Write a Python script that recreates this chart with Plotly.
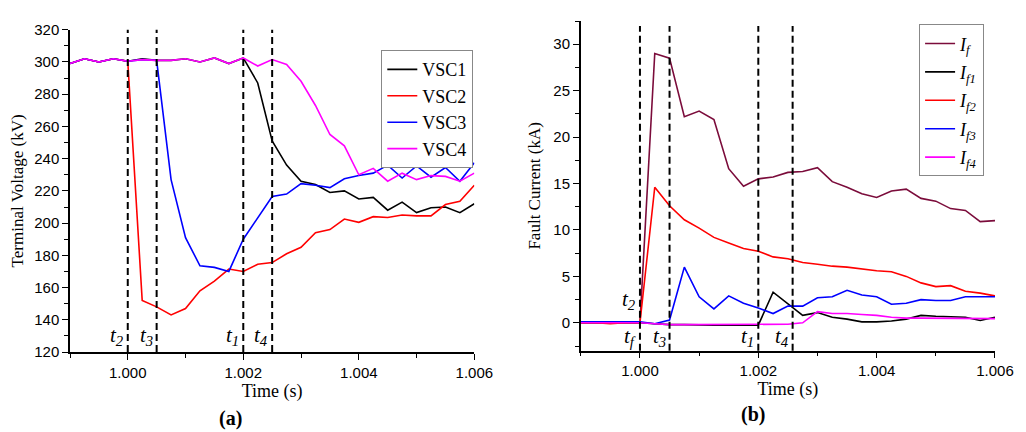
import plotly.graph_objects as go

# ---------------- data ----------------
time = [0.999, 0.99925, 0.9995, 0.99975, 1.0, 1.00025, 1.0005, 1.00075, 1.001,
        1.00125, 1.0015, 1.00175, 1.002, 1.00225, 1.0025, 1.00275, 1.003, 1.00325,
        1.0035, 1.00375, 1.004, 1.00425, 1.0045, 1.00475, 1.005, 1.00525, 1.0055,
        1.00575, 1.006]

vsc1 = [299, 302, 300, 302, 300.5, 302, 301, 301, 302, 300, 302.5, 299, 302.5,
        287, 251, 236, 226, 224, 219, 220, 215, 216, 208, 213, 206.5, 209.5, 210, 206.5, 212]
vsc2 = [299, 302, 300, 302, 300.5, 152, 148, 143, 147, 158, 164, 171.5, 170, 174.5,
        175.5, 181, 185, 194, 196, 202.5, 200.5, 204, 203.5, 205, 204.5, 204.5, 211.5, 213.5, 223.5]
vsc3 = [299, 302, 300, 302, 300.5, 301.5, 301, 227, 191, 173.5, 172.5, 170, 190, 203,
        216.5, 218, 224.5, 223.5, 222, 227.5, 229.5, 231, 236, 228, 235.5, 228.5, 234.5, 226, 237.5]
vsc4 = [299, 302, 300, 302, 300.5, 301.5, 301, 301, 302, 300, 302.5, 299, 302.5,
        297.5, 301.5, 298.5, 288, 273, 255, 248, 230, 234, 226, 231, 227, 229.5, 229, 226, 231]

i_f = [0, 0, 0, 0, 0, 29.0, 28.5, 22.2, 22.8, 21.9, 16.6, 14.7, 15.5, 15.7, 16.2, 16.3,
       16.7, 15.2, 14.6, 13.9, 13.5, 14.2, 14.4, 13.4, 13.1, 12.3, 12.1, 10.9, 11.0]
i_f1 = [0, 0, 0, 0, 0, -0.1, -0.2, -0.2, -0.25, -0.25, -0.25, -0.25, -0.25, 3.3, 2.0, 0.8,
        1.1, 0.6, 0.4, 0.1, 0.1, 0.2, 0.4, 0.8, 0.7, 0.65, 0.6, 0.25, 0.6]
i_f2 = [0, 0, -0.1, 0, 0, 14.6, 12.6, 11.1, 10.2, 9.2, 8.6, 8.0, 7.7, 7.1, 6.9, 6.5, 6.3,
        6.1, 6.0, 5.8, 5.6, 5.5, 5.0, 4.3, 3.9, 4.0, 3.4, 3.2, 2.9]
i_f3 = [0.1, 0.1, 0.1, 0.1, 0.1, -0.1, 0.3, 6.0, 2.8, 1.5, 2.9, 2.1, 1.6, 1.0, 1.8, 1.8,
        2.7, 2.8, 3.5, 3.0, 2.8, 2.0, 2.1, 2.5, 2.4, 2.4, 2.8, 2.8, 2.8]
i_f4 = [0, 0, 0, 0, 0, -0.1, -0.2, -0.2, -0.2, -0.2, -0.2, -0.2, -0.2, -0.2, -0.15, 0.0,
        1.2, 1.0, 1.0, 0.9, 0.8, 0.6, 0.5, 0.5, 0.5, 0.5, 0.5, 0.5, 0.45]

names_a = ["VSC1", "VSC2", "VSC3", "VSC4"]
names_b = ["<i>I<sub>f</sub></i>", "<i>I<sub>f1</sub></i>", "<i>I<sub>f2</sub></i>",
           "<i>I<sub>f3</sub></i>", "<i>I<sub>f4</sub></i>"]

events_a = [1.000, 1.0005, 1.002, 1.0025]
labels_a = ["2", "3", "1", "4"]
label_y_a = [130, 130, 130, 130]

events_b = [1.000, 1.000, 1.0005, 1.002, 1.00258]
labels_b = ["2", "f", "3", "1", "4"]
label_y_b = [2.5, -1.5, -1.5, -1.5, -1.5]

# ---------------- styles ----------------
colors_a = ["#000000", "#ff0000", "#0000ff", "#ff00ff"]
colors_b = ["#7b0c3b", "#000000", "#ff0000", "#0000ff", "#ff00ff"]
SERIF = "Liberation Serif"
SANS = "Liberation Sans"

fig = go.Figure()

for name, ys, c in zip(names_a, [vsc1, vsc2, vsc3, vsc4], colors_a):
    fig.add_trace(go.Scatter(x=time, y=ys, mode="lines", name=name,
                             line=dict(color=c, width=1.6),
                             xaxis="x", yaxis="y", legend="legend"))

for k, (name, ys, c) in enumerate(zip(names_b, [i_f, i_f1, i_f2, i_f3, i_f4], colors_b)):
    fig.add_trace(go.Scatter(x=time, y=ys, mode="lines", name=name,
                             line=dict(color=c, width=1.6), legendgroup="g%d" % k,
                             xaxis="x2", yaxis="y2", legend="legend2"))

shapes = []
annotations = []
for ev in events_a:
    shapes.append(dict(type="line", xref="x", yref="y domain", x0=ev, x1=ev, y0=0, y1=1,
                       line=dict(color="black", width=2, dash="7px,4px")))
for ev, lab, yy in zip(events_a, labels_a, label_y_a):
    annotations.append(dict(x=ev, y=yy, xref="x", yref="y", xanchor="right", yanchor="middle",
                            xshift=-2, showarrow=False,
                            text="<i>t<sub>%s</sub></i>" % lab,
                            font=dict(family=SERIF, size=21, color="black")))
for ev in sorted(set(events_b)):
    shapes.append(dict(type="line", xref="x2", yref="y2 domain", x0=ev, x1=ev, y0=0, y1=0.985,
                       line=dict(color="black", width=2, dash="7px,4px")))
for ev, lab, yy in zip(events_b, labels_b, label_y_b):
    annotations.append(dict(x=ev, y=yy, xref="x2", yref="y2", xanchor="right", yanchor="middle",
                            xshift=-2, showarrow=False,
                            text="<i>t<sub>%s</sub></i>" % lab,
                            font=dict(family=SERIF, size=21, color="black")))

annotations.append(dict(x=0.1738, y=-0.2, xref="paper", yref="paper", showarrow=False,
                        xanchor="center", yanchor="middle",
                        text="<b>(a)</b>", font=dict(family=SERIF, size=20, color="black")))
annotations.append(dict(x=0.7388, y=-0.19, xref="paper", yref="paper", showarrow=False,
                        xanchor="center", yanchor="middle",
                        text="<b>(b)</b>", font=dict(family=SERIF, size=20, color="black")))

axis_common = dict(showline=True, linecolor="black", linewidth=1.5, ticks="outside",
                   ticklen=6, tickwidth=1.2, tickcolor="black", showgrid=False, zeroline=False,
                   tickfont=dict(family=SANS, size=15, color="black"))

fig.update_layout(
    width=1026, height=432,
    margin=dict(l=70, r=18, t=12, b=80),
    paper_bgcolor="white", plot_bgcolor="white",
    showlegend=True,
    xaxis=dict(domain=[0, 0.4371], range=[0.999, 1.006], anchor="y",
               tick0=1.0, dtick=0.002, tickformat=".3f",
               minor=dict(dtick=0.001, ticklen=4, tickcolor="black", ticks="outside"),
               title=dict(text="Time (s)", font=dict(family=SERIF, size=18, color="black"), standoff=3),
               **axis_common),
    yaxis=dict(domain=[0, 0.9735], range=[120, 320], anchor="x",
               dtick=20, minor=dict(dtick=10, ticklen=4, tickcolor="black", ticks="outside"),
               title=dict(text="Terminal Voltage (kV)", font=dict(family=SERIF, size=17, color="black"), standoff=6),
               **axis_common),
    xaxis2=dict(domain=[0.5522, 1], range=[0.999, 1.006], anchor="y2",
                tick0=1.0, dtick=0.002, tickformat=".3f",
                minor=dict(dtick=0.001, ticklen=4, tickcolor="black", ticks="outside"),
                title=dict(text="Time (s)", font=dict(family=SERIF, size=18, color="black"), standoff=3),
                **axis_common),
    yaxis2=dict(domain=[0.004, 1], range=[-3, 32.5], anchor="x2",
                tick0=0, dtick=5, minor=dict(dtick=2.5, ticklen=4, tickcolor="black", ticks="outside"),
                title=dict(text="Fault Current (kA)", font=dict(family=SERIF, size=17, color="black"), standoff=8),
                **axis_common),
    legend=dict(x=0.436, y=0.9118, xanchor="right", yanchor="top",
                bordercolor="#888888", borderwidth=1, bgcolor="white",
                font=dict(family=SERIF, size=18, color="black"), tracegroupgap=0),
    legend2=dict(x=0.9882, y=0.99, xanchor="right", yanchor="top",
                 bordercolor="#888888", borderwidth=1, bgcolor="white",
                 font=dict(family=SERIF, size=18, color="black"), tracegroupgap=2),
    shapes=shapes,
    annotations=annotations,
)

fig.write_html("out.html")
